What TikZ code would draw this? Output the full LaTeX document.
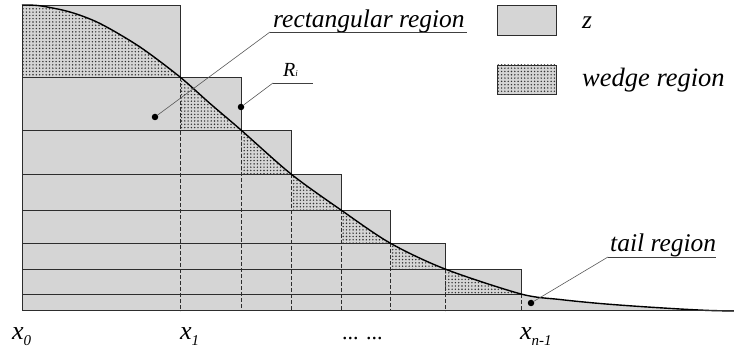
\documentclass[tikz,border=0pt]{standalone}
\usepackage{fontspec}
\setmainfont{Liberation Serif}
\usetikzlibrary{patterns,calc}
\definecolor{zgray}{RGB}{213,213,213}
\definecolor{edge}{RGB}{45,45,45}
\pgfdeclarepatternformonly{wdots}{\pgfqpoint{-1pt}{-1pt}}{\pgfqpoint{1pt}{1pt}}{\pgfqpoint{3.3pt}{3.3pt}}{%
  \pgfpathcircle{\pgfqpoint{0pt}{0pt}}{0.8pt}\pgfusepath{fill}}
\def\curvepts{(22,5) (40,5.8) (70,12) (100,23.5) (140,47) (180,77) (210,103.5) (241,130) (291,174) (341,210) (390,243) (445,269) (521,294) (560,299.5) (600,303.5) (640,306.5) (680,309) (710,310.5) (734,311)}
\begin{document}
\begin{tikzpicture}[x=1pt,y=-1pt,
  layer/.style={fill=zgray, draw=edge, line width=0.9pt},
  wedgefill/.style={pattern=wdots, pattern color=black!80},
  gridline/.style={draw=edge, line width=0.6pt, dash pattern=on 4pt off 2pt},
  curveline/.style={draw=black, line width=1.4pt},
  leader/.style={draw=black!65, line width=0.6pt},
  uline/.style={draw=black!75, line width=0.9pt},
  dotmark/.style={circle, fill=black, inner sep=0pt, minimum size=6.5pt},
  lbl/.style={font=\fontsize{25.5}{25.5}\selectfont\itshape, inner sep=0pt, anchor=base west},
  xlbl/.style={font=\fontsize{26}{26}\selectfont\itshape, inner sep=0pt, anchor=base west}]
\useasboundingbox (0,0) rectangle (734,352);

% layers
\foreach \r/\t/\b in {180/5/77, 241/77/130, 291/130/174, 341/174/210, 390/210/243, 445/243/269, 521/269/294}
  \draw[layer] (22,\t) rectangle (\r,\b);
\fill[zgray] (22,294) rectangle (521,311);
\draw[edge, line width=0.9pt] (521,294) -- (22,294) -- (22,311);

% wedges
\foreach \l/\t/\r/\b in {22/5/180/77, 180/77/241/130, 241/130/291/174, 291/174/341/210, 341/210/390/243, 390/243/445/269, 445/269/521/294}{
  \begin{scope}
    \clip (\l,\t) rectangle (\r,\b);
    \fill[wedgefill] plot[smooth] coordinates {\curvepts} -- (22,311) -- cycle;
  \end{scope}
}
% tail region
\begin{scope}
  \clip (521,0) rectangle (734,311);
  \fill[zgray] plot[smooth] coordinates {\curvepts} -- (22,311) -- cycle;
\end{scope}

% dashed verticals
\foreach \x/\t in {180/77, 241/130, 291/174, 341/210, 390/243, 445/269, 521/294}
  \draw[gridline] (\x,\t) -- (\x,311);

% curve and baseline
\draw[curveline] plot[smooth] coordinates {\curvepts};
\draw[edge, line width=1pt] (22,311) -- (734,311);

% legend
\draw[layer, line width=0.8pt] (497,5) rectangle (556,35);
\node[lbl] (zl) at (582,29) {z};
\fill[zgray] (497,65) rectangle (556,94);
\fill[wedgefill] (497,65) rectangle (556,94);
\draw[edge, line width=0.8pt] (497,65) rectangle (556,94);
\node[lbl, font=\fontsize{26.5}{26.5}\selectfont\itshape] (wl) at (582,87) {wedge region};

% rectangular region
\node[lbl] (rl) at (273,28) {rectangular region};
\coordinate (rls) at (270,32);
\draw[uline] (rls) -- (467,32);
\node[dotmark] (d1) at (155,117) {};
\draw[leader] (rls) -- (d1);

% R_i
\node[lbl, font=\fontsize{20}{20}\selectfont\itshape] (ri) at (283,77) {R\fontsize{9}{9}\selectfont i};
\coordinate (ris) at (273,83);
\draw[uline] (ris) -- (313,83);
\node[dotmark] (d2) at (241,107) {};
\draw[leader] (ris) -- (d2);

% tail region
\node[lbl] (tl) at (610,252) {tail region};
\coordinate (tls) at (608,257);
\draw[uline] (tls) -- (716,257);
\node[dotmark] (d3) at (531,303) {};
\draw[leader] (tls) -- (d3);

% x labels
\node[xlbl] (x0) at (12,340) {x\raisebox{-6pt}{\fontsize{15}{15}\selectfont 0}};
\node[xlbl] (x1) at (180,340) {x\raisebox{-6pt}{\fontsize{15}{15}\selectfont 1}};
\node[xlbl, font=\fontsize{22}{22}\selectfont] (dots) at (342,340) {... ...};
\node[xlbl] (xn) at (520,340) {x\raisebox{-6pt}{\fontsize{15}{15}\selectfont n-1}};
\end{tikzpicture}
\end{document}
